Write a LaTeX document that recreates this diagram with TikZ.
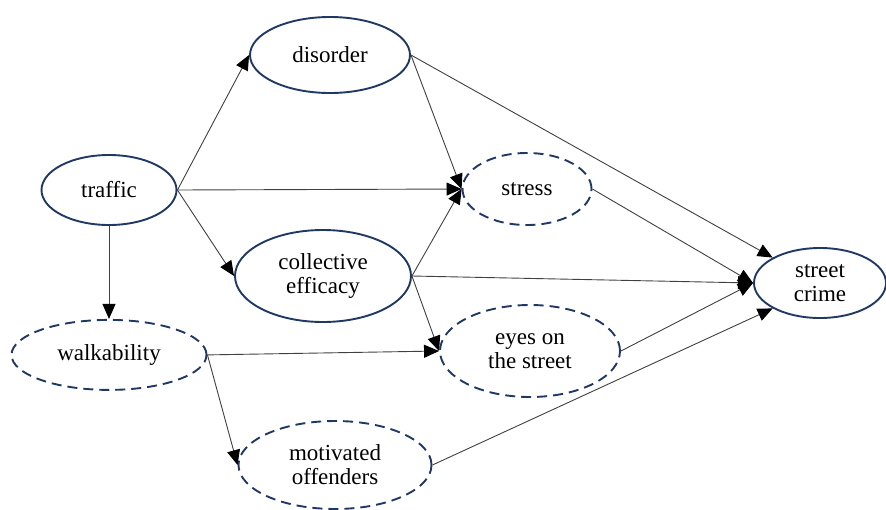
\documentclass[tikz,border=0pt]{standalone}
\usepackage{fontspec}
\setmainfont{Liberation Serif}
\usetikzlibrary{arrows.meta,positioning,shapes.geometric}
\definecolor{NodeBlue}{RGB}{31,56,100}
\definecolor{EdgeGray}{RGB}{64,64,64}

\begin{document}
\begin{tikzpicture}[x=1pt, y=-1pt,
    var/.style={ellipse, draw=NodeBlue, line width=1.9pt, inner sep=0pt, align=center, font=\fontsize{23}{24}\selectfont},
    latent/.style={var, dash pattern=on 10pt off 6pt},
    arr/.style={-{Triangle[length=15pt, width=13pt, color=black]}, line width=0.9pt, EdgeGray}
  ]
  \useasboundingbox (0,0) rectangle (886,509);
  % observed
  \node[var, minimum width=135pt, minimum height=70pt] (traffic) at (109,190) {traffic};
  \node[var, minimum width=160pt, minimum height=76pt] (disorder) at (330,55) {disorder};
  \node[var, minimum width=176pt, minimum height=92pt] (efficacy) at (323,276) {collective\\ efficacy};
  \node[var, minimum width=132pt, minimum height=70pt] (crime) at (820,283) {street\\ crime};
  % latent
  \node[latent, minimum width=195pt, minimum height=70pt, below=93pt of traffic] (walk) {walkability};
  \node[latent, minimum width=129pt, minimum height=72pt] (stress) at (527,189) {stress};
  \node[latent, minimum width=180pt, minimum height=92pt] (eyes) at (530,351) {eyes on\\ the street};
  \node[latent, minimum width=193pt, minimum height=88pt] (offenders) at (335,465) {motivated\\ offenders};

  \draw[arr] (traffic.east) -- (disorder.west);
  \draw[arr] (traffic.east) -- (stress.west);
  \draw[arr] (traffic.east) -- (efficacy.west);
  \draw[arr] (traffic.south) -- (walk.north);
  \draw[arr] (disorder.east) -- (stress.west);
  \draw[arr] (disorder.east) -- (crime.north west);
  \draw[arr] (efficacy.east) -- (stress.west);
  \draw[arr] (efficacy.east) -- (crime.west);
  \draw[arr] (efficacy.east) -- (eyes.west);
  \draw[arr] (walk.east) -- (eyes.west);
  \draw[arr] (walk.east) -- (offenders.west);
  \draw[arr] (stress.east) -- (crime.west);
  \draw[arr] (eyes.east) -- (crime.west);
  \draw[arr] (offenders.east) -- (crime.south west);
\end{tikzpicture}
\end{document}
